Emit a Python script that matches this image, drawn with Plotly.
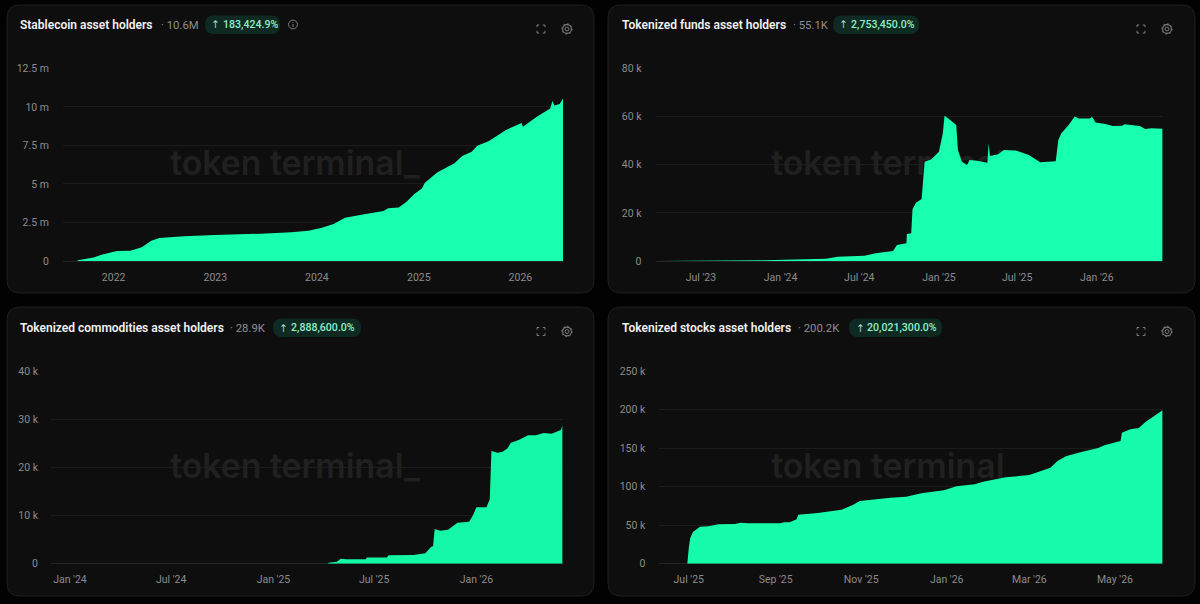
import pandas as pd
import plotly.graph_objects as go

# ---------- data ----------
stable_dates = ["2021-07-03","2021-08-24","2021-08-25","2021-09-10","2021-10-21","2021-11-18","2021-12-17","2022-01-13","2022-03-02","2022-04-12","2022-05-16","2022-06-14","2022-09-11","2022-12-30","2023-06-13","2023-10-01","2023-12-02","2024-01-19","2024-03-01","2024-04-11","2024-06-19","2024-08-27","2024-09-13","2024-10-21","2024-11-18","2024-12-16","2025-01-12","2025-01-23","2025-03-08","2025-05-09","2025-06-06","2025-07-10","2025-07-30","2025-09-10","2025-11-10","2026-01-05","2026-01-10","2026-03-01","2026-04-18","2026-04-26","2026-05-03","2026-05-22","2026-06-03"]
stable_millions = [0,0,0.05,0.11,0.22,0.41,0.56,0.65,0.67,0.89,1.32,1.49,1.6,1.69,1.77,1.86,1.97,2.16,2.4,2.81,3.03,3.24,3.42,3.48,3.85,4.35,4.71,5.08,5.75,6.34,6.81,7.09,7.48,7.79,8.5,8.95,8.72,9.36,9.9,10.38,10.1,10.19,10.55]

funds_dates = ["2023-03-18","2023-09-20","2023-09-22","2023-10-07","2023-10-09","2023-11-02","2023-11-03","2023-11-05","2023-11-21","2023-11-25","2024-01-11","2024-04-15","2024-05-12","2024-07-13","2024-08-08","2024-09-17","2024-09-26","2024-10-18","2024-10-19","2024-10-29","2024-11-01","2024-11-09","2024-11-22","2024-11-29","2024-12-14","2025-01-01","2025-01-10","2025-01-14","2025-01-25","2025-02-10","2025-02-14","2025-02-23","2025-03-07","2025-03-13","2025-03-30","2025-04-17","2025-04-23","2025-04-26","2025-04-29","2025-05-18","2025-05-31","2025-06-27","2025-07-28","2025-08-23","2025-09-28","2025-10-04","2025-10-11","2025-10-26","2025-11-11","2025-11-20","2025-12-16","2025-12-21","2025-12-29","2026-01-21","2026-02-07","2026-03-01","2026-03-06","2026-04-10","2026-04-23","2026-05-07","2026-06-02"]
funds_values = [0,0,300,300,0,0,200,0,0,280,550,970,1800,2200,3180,4150,6640,7340,11210,11490,21460,24220,25740,41250,42210,45400,53000,60350,58830,56480,46100,41250,39860,41940,41660,40970,40830,48860,43600,44290,46100,45950,44010,40970,41390,50250,53020,56060,60070,59240,59240,59930,57570,56890,56060,56200,56750,56060,54810,55090,54950]

comm_dates = ["2023-11-28","2025-04-09","2025-04-10","2025-04-25","2025-05-02","2025-05-12","2025-06-16","2025-06-18","2025-07-24","2025-07-27","2025-09-10","2025-10-01","2025-10-11","2025-10-15","2025-10-18","2025-10-28","2025-11-11","2025-11-28","2025-12-19","2025-12-26","2026-01-01","2026-01-19","2026-01-25","2026-01-26","2026-01-28","2026-02-08","2026-02-17","2026-02-26","2026-03-04","2026-03-18","2026-04-04","2026-04-18","2026-05-02","2026-05-16","2026-05-29","2026-06-02","2026-06-05"]
comm_values = [0,0,210,410,1040,900,900,1310,1310,1730,1800,2150,3390,3670,7200,6850,7060,8510,8720,10100,11700,11700,13360,16000,23390,23040,23250,23940,25120,25680,26640,26640,27130,26990,27540,27750,28790]

stock_dates = ["2025-06-10","2025-06-30","2025-07-01","2025-07-02","2025-07-04","2025-07-09","2025-07-15","2025-07-22","2025-08-03","2025-08-07","2025-08-12","2025-09-04","2025-09-07","2025-09-11","2025-09-16","2025-09-17","2025-10-01","2025-10-18","2025-10-26","2025-10-31","2025-11-22","2025-12-03","2025-12-14","2025-12-30","2026-01-08","2026-01-21","2026-01-27","2026-02-12","2026-03-01","2026-03-09","2026-03-16","2026-03-21","2026-03-27","2026-04-05","2026-04-19","2026-04-24","2026-05-05","2026-05-06","2026-05-12","2026-05-18","2026-05-23","2026-05-29","2026-06-04"]
stock_values = [0,0,20000,33000,41000,48010,48440,51040,51470,53200,52340,52340,53630,53630,57530,63580,65740,70070,76120,81310,85640,86940,91260,95160,100350,102940,106400,112020,115050,119810,124570,133220,139270,144020,150080,153970,159170,169980,174310,176040,184260,191610,199000]

stable_ytick_vals = [0,2.5,5,7.5,10,12.5]
stable_ytick_text = ["0","2.5 m","5 m","7.5 m","10 m","12.5 m"]
stable_xtick_vals = ["2022-01-01","2023-01-01","2024-01-01","2025-01-01","2026-01-01"]
stable_xtick_text = ["2022","2023","2024","2025","2026"]
funds_ytick_vals = [0,20000,40000,60000,80000]
funds_ytick_text = ["0","20 k","40 k","60 k","80 k"]
funds_xtick_vals = ["2023-07-01","2024-01-01","2024-07-01","2025-01-01","2025-07-01","2026-01-01"]
funds_xtick_text = ["Jul '23","Jan '24","Jul '24","Jan '25","Jul '25","Jan '26"]
comm_ytick_vals = [0,10000,20000,30000,40000]
comm_ytick_text = ["0","10 k","20 k","30 k","40 k"]
comm_xtick_vals = ["2024-01-01","2024-07-01","2025-01-01","2025-07-01","2026-01-01"]
comm_xtick_text = ["Jan '24","Jul '24","Jan '25","Jul '25","Jan '26"]
stock_ytick_vals = [0,50000,100000,150000,200000,250000]
stock_ytick_text = ["0","50 k","100 k","150 k","200 k","250 k"]
stock_xtick_vals = ["2025-07-01","2025-09-01","2025-11-01","2026-01-01","2026-03-01","2026-05-01"]
stock_xtick_text = ["Jul '25","Sep '25","Nov '25","Jan '26","Mar '26","May '26"]

titles = ["Stablecoin asset holders","Tokenized funds asset holders","Tokenized commodities asset holders","Tokenized stocks asset holders"]
latest = ["· 10.6M","· 55.1K","· 28.9K","· 200.2K"]
changes = ["183,424.9%","2,753,450.0%","2,888,600.0%","20,021,300.0%"]

# ---------- layout constants (pixels in the 1200x604 frame) ----------
W, H = 1200, 604
FONT = "Roboto"
X = lambda p: p / W
Y = lambda p: 1 - p / H

panels = [
    dict(d=stable_dates, v=stable_millions, yv=stable_ytick_vals, yt=stable_ytick_text, xv=stable_xtick_vals, xt=stable_xtick_text,
         left=63, right=563, y0=261, y1=68.4, ymax=12.5, stand=13, fill="#19FFB0", wmy=167,
         card=(7,5,594,293), tx=20, lx=161, pill=(205,280), ax=214, cx=223, ty=25, icons=(541,567,29), wm=295),
    dict(d=funds_dates, v=funds_values, yv=funds_ytick_vals, yt=funds_ytick_text, xv=funds_xtick_vals, xt=funds_xtick_text,
         left=655.5, right=1162.6, y0=261, y1=68.4, ymax=80000, stand=13, fill="#19FFB0", wmy=167,
         card=(608,5,1195,293), tx=621.5, lx=793, pill=(833,919), ax=842, cx=851, ty=25, icons=(1141,1167,29), wm=896),
    dict(d=comm_dates, v=comm_values, yv=comm_ytick_vals, yt=comm_ytick_text, xv=comm_xtick_vals, xt=comm_xtick_text,
         left=51, right=562.6, y0=563.7, y1=371, ymax=40000, stand=12, fill="#13F7A6", wmy=470,
         card=(7,307,594,596), tx=20, lx=230, pill=(273,361), ax=282, cx=291, ty=328, icons=(541,567,331.5), wm=295),
    dict(d=stock_dates, v=stock_values, yv=stock_ytick_vals, yt=stock_ytick_text, xv=stock_xtick_vals, xt=stock_xtick_text,
         left=659.3, right=1162.6, y0=563.7, y1=371, ymax=250000, stand=13, fill="#17FCAB", wmy=470,
         card=(608,307,1195,596), tx=621.5, lx=798, pill=(849,942), ax=859, cx=867, ty=328, icons=(1141,1167,331.5), wm=896),
]

def rrect(x0, y0, x1, y1, r):
    return (f"M{X(x0+r)},{Y(y0)} L{X(x1-r)},{Y(y0)} Q{X(x1)},{Y(y0)} {X(x1)},{Y(y0+r)} "
            f"L{X(x1)},{Y(y1-r)} Q{X(x1)},{Y(y1)} {X(x1-r)},{Y(y1)} "
            f"L{X(x0+r)},{Y(y1)} Q{X(x0)},{Y(y1)} {X(x0)},{Y(y1-r)} "
            f"L{X(x0)},{Y(y0+r)} Q{X(x0)},{Y(y0)} {X(x0+r)},{Y(y0)} Z")

def seg(x0, y0, x1, y1, color="#8a8a8a", w=1):
    return dict(type="line", xref="paper", yref="paper", x0=X(x0), y0=Y(y0), x1=X(x1), y1=Y(y1),
                line=dict(color=color, width=w), layer="below")

def circ(cx, cy, r, color="#7c7c7c", w=1, dash=None):
    return dict(type="circle", xref="paper", yref="paper", x0=X(cx-r), x1=X(cx+r), y0=Y(cy+r), y1=Y(cy-r),
                line=dict(color=color, width=w, dash=dash or "solid"), layer="below")

fig = go.Figure()
shapes, annos, axes = [], [], {}

for i, p in enumerate(panels, start=1):
    sfx = "" if i == 1 else str(i)
    xa, ya = f"x{sfx}", f"y{sfx}"
    start, end = pd.Timestamp(p["d"][0]), pd.Timestamp(p["d"][-1])
    # watermark: first trace so the area covers it
    frac = (p["wm"] - p["left"]) / (p["right"] - p["left"])
    wm_x = start + (end - start) * frac
    wm_y = (p["y0"] - p["wmy"]) / (p["y0"] - p["y1"]) * p["ymax"]
    fig.add_trace(go.Scatter(x=[wm_x], y=[wm_y], mode="text", text=["token terminal_"], textposition="middle center",
                             textfont=dict(family="Inter", size=33.8, color="#202021", weight=600),
                             xaxis=xa, yaxis=ya, showlegend=False, hoverinfo="skip", cliponaxis=False))
    fig.add_trace(go.Scatter(x=p["d"], y=p["v"], mode="lines", fill="tozeroy", fillcolor=p["fill"],
                             line=dict(width=0, color=p["fill"]), xaxis=xa, yaxis=ya, showlegend=False))
    axes[f"xaxis{sfx}"] = dict(domain=[X(p["left"]), X(p["right"])], range=[p["d"][0], p["d"][-1]], type="date", anchor=ya,
                               tickmode="array", tickvals=p["xv"], ticktext=p["xt"], showgrid=False, zeroline=False,
                               showline=False, ticks="outside", ticklen=6, tickcolor="rgba(0,0,0,0)", automargin=False,
                               tickfont=dict(family=FONT, size=10.5, color="#8c8c8c"))
    axes[f"yaxis{sfx}"] = dict(domain=[Y(p["y0"]), Y(p["y1"])], range=[0, p["ymax"]], anchor=xa, automargin=False,
                               tickmode="array", tickvals=p["yv"], ticktext=p["yt"], showgrid=True, gridcolor="#1c1c1d",
                               gridwidth=1, zeroline=True, zerolinecolor="#242425", zerolinewidth=1, showline=False,
                               ticks="", ticklabelstandoff=p["stand"],
                               tickfont=dict(family=FONT, size=10.5, color="#8c8c8c"))
    # card
    cx0, cy0, cx1, cy1 = p["card"]
    shapes.append(dict(type="path", xref="paper", yref="paper", path=rrect(cx0, cy0, cx1, cy1, 13),
                       fillcolor="#0e0e0f", line=dict(color="#1e1e20", width=1), layer="below"))
    # pill
    px0, px1 = p["pill"]
    ty = p["ty"]
    shapes.append(dict(type="path", xref="paper", yref="paper", path=rrect(px0, ty-9.5, px1, ty+9, 9),
                       fillcolor="#0e2a22", line=dict(width=0), layer="below"))
    annos += [
        dict(x=X(p["tx"]-1), y=Y(ty), text=titles[i-1], font=dict(family=FONT, size=12, color="#f2f2f2", weight=600)),
        dict(x=X(p["lx"]-1), y=Y(ty), text=latest[i-1], font=dict(family=FONT, size=11.3, color="#8f8f8f")),
        dict(x=X(p["ax"]-4), y=Y(ty-0.5), text="↑", font=dict(family="DejaVu Sans", size=10.5, color="#9fdcc2")),
        dict(x=X(p["cx"]-1), y=Y(ty-0.5), text=changes[i-1], font=dict(family=FONT, size=10.6, color="#8ff0c6", weight=500)),
    ]
    # expand and gear icons
    ex, gx, iy = p["icons"]
    c = "#7c7c7c"
    for sx in (-1, 1):
        for sy in (-1, 1):
            shapes.append(seg(ex+sx*4, iy+sy*4, ex+sx*1.8, iy+sy*4, c))
            shapes.append(seg(ex+sx*4, iy+sy*4, ex+sx*4, iy+sy*1.8, c))
    shapes.append(circ(gx, iy, 4.4, c, 1.1))
    shapes.append(circ(gx, iy, 5.2, c, 1, dash="1.5px,2.5px"))
    shapes.append(circ(gx, iy, 1.9, c, 1))

# info icon in the first panel only
shapes.append(circ(293, 24.5, 4.4, "#7c7c7c", 1))
shapes.append(seg(293, 24, 293, 27, "#7c7c7c", 1))
shapes.append(seg(293, 22, 293, 22.8, "#7c7c7c", 1))

for a in annos:
    a.update(xref="paper", yref="paper", xanchor="left", yanchor="middle", showarrow=False, align="left", borderpad=0)

fig.update_layout(width=W, height=H, margin=dict(l=0, r=0, t=0, b=0, pad=0), autosize=False,
                  paper_bgcolor="#020202", plot_bgcolor="rgba(0,0,0,0)", showlegend=False,
                  shapes=shapes, annotations=annos, **axes)

fig.write_html("out.html", config=dict(displayModeBar=False),
               post_script="document.body.style.margin='0';document.body.style.background='#020202';document.body.style.overflow='hidden';")
